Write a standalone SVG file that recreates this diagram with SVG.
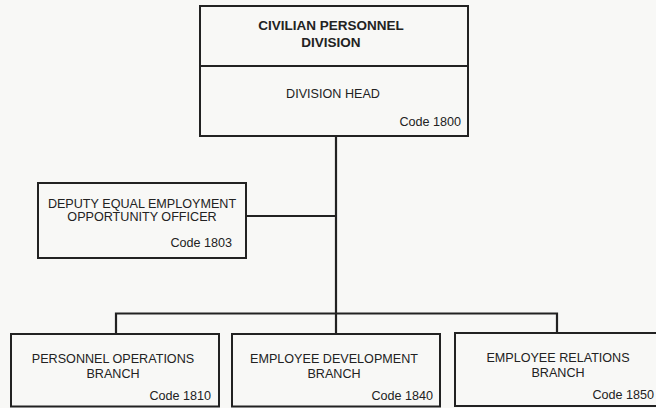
<svg xmlns="http://www.w3.org/2000/svg" width="656" height="408" viewBox="0 0 656 408">
<style>
.box{fill:none;stroke:#222;stroke-width:2}
.ln{fill:none;stroke:#222;stroke-width:2.2}
text{font-family:"Liberation Sans",Arial,sans-serif;font-size:12.6px;fill:#222}
.t{text-anchor:middle}
.b{font-weight:bold;font-size:13.5px}
.c{text-anchor:end}
</style>
<rect width="656" height="408" fill="#f8f8f6"/>
<g id="connectors">
<line class="ln" x1="336" y1="136" x2="336" y2="334"/>
<line class="ln" x1="246" y1="216" x2="336" y2="216"/>
<polyline class="ln" points="116,334 116,313.5 557,313.5 557,333"/>
</g>
<g id="division">
<rect class="box" x="200" y="6" width="268" height="130"/>
<line class="box" x1="200" y1="66" x2="468" y2="66"/>
<text class="t b" x="331" y="30">CIVILIAN PERSONNEL</text>
<text class="t b" x="331" y="46.5">DIVISION</text>
<text class="t" x="333" y="98">DIVISION HEAD</text>
<text class="c" x="461" y="126">Code 1800</text>
</g>
<g id="deputy">
<rect class="box" x="38" y="183" width="208" height="75"/>
<text class="t" x="142" y="207.5">DEPUTY EQUAL EMPLOYMENT</text>
<text class="t" x="142" y="221">OPPORTUNITY OFFICER</text>
<text class="c" x="232" y="247">Code 1803</text>
</g>
<g id="ops">
<rect class="box" x="11" y="334" width="208" height="72.5"/>
<text class="t" x="113" y="362.5">PERSONNEL OPERATIONS</text>
<text class="t" x="113" y="377.5">BRANCH</text>
<text class="c" x="211" y="399.5">Code 1810</text>
</g>
<g id="development">
<rect class="box" x="232" y="334" width="208" height="72.5"/>
<text class="t" x="334" y="362.5">EMPLOYEE DEVELOPMENT</text>
<text class="t" x="334" y="377.5">BRANCH</text>
<text class="c" x="433" y="399.5">Code 1840</text>
</g>
<g id="relations">
<rect class="box" x="455" y="333" width="208" height="73"/>
<text class="t" x="558" y="361.5">EMPLOYEE RELATIONS</text>
<text class="t" x="558" y="376.5">BRANCH</text>
<text class="c" x="654" y="399">Code 1850</text>
</g>
</svg>
